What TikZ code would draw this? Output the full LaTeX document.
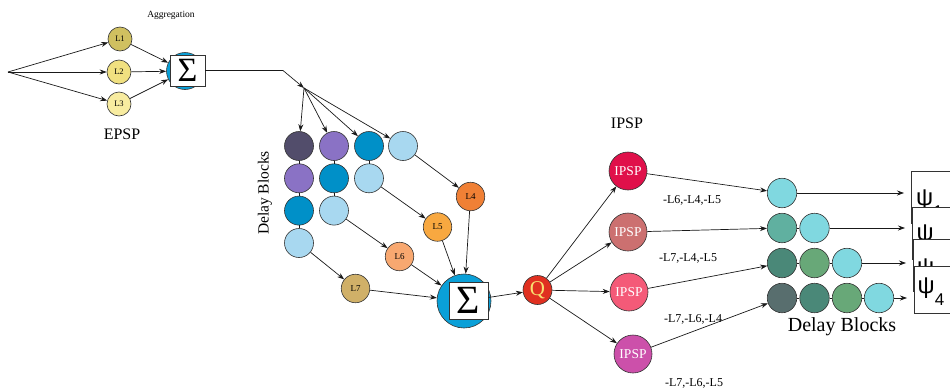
\documentclass[tikz,border=0pt]{standalone}
\usepackage{fontspec}
\setmainfont{Liberation Serif}
\newfontfamily\sansf{Liberation Sans}
\usetikzlibrary{arrows.meta}
\newcommand\myfs[1]{\fontsize{#1}{#1}\selectfont}
\definecolor{cA}{HTML}{524D6B}
\definecolor{cPurp}{HTML}{8A72C5}
\definecolor{cBlu}{HTML}{0090C8}
\definecolor{cLblu}{HTML}{A8D8F0}
\definecolor{cSig}{HTML}{0AA0D8}
\definecolor{cLa}{HTML}{D0C060}
\definecolor{cLb}{HTML}{F0E080}
\definecolor{cLc}{HTML}{F8ECA0}
\definecolor{cLd}{HTML}{F08035}
\definecolor{cLe}{HTML}{F8A840}
\definecolor{cLf}{HTML}{F8A870}
\definecolor{cLg}{HTML}{D0B068}
\definecolor{cQ}{HTML}{E03020}
\definecolor{cQt}{HTML}{F8E070}
\definecolor{cIa}{HTML}{E0104A}
\definecolor{cIb}{HTML}{CC7070}
\definecolor{cIc}{HTML}{F45A78}
\definecolor{cId}{HTML}{CC50AA}
\definecolor{cCy}{HTML}{80D8E0}
\definecolor{cTa}{HTML}{60B0A0}
\definecolor{cTb}{HTML}{4A8878}
\definecolor{cGr}{HTML}{68A878}
\definecolor{cGt}{HTML}{586E6E}
\tikzset{
  arr/.style={-{Stealth[length=7pt,width=5pt]}, line width=0.7pt, draw=black!90},
  lnk/.style={line width=0.7pt, draw=black!90},
  ball/.style={circle, draw=black!80, line width=0.6pt, inner sep=0pt},
  lball/.style={ball, minimum size=24pt, font=\myfs{8.5}},
  dball/.style={ball, minimum size=29pt},
  mball/.style={ball, minimum size=28.5pt, font=\myfs{9}},
  iball/.style={ball, minimum size=38pt, text=white, font=\myfs{13.5}},
  rball/.style={ball, minimum size=29.5pt},
  sbox/.style={draw=black!80, fill=white, line width=0.6pt, inner sep=0pt},
  psibox/.style={draw=black!80, fill=white, line width=0.6pt, inner sep=0pt, anchor=north west, minimum width=100pt},
  psitxt/.style={anchor=base west, inner sep=0pt, font=\sansf\myfs{24}},
  lbl/.style={inner sep=0pt, font=\myfs{12}},
  ttl/.style={inner sep=0pt, font=\myfs{16}}
}
\begin{document}
\begin{tikzpicture}[x=1pt,y=-1pt]
\useasboundingbox (0,0) rectangle (950,391);
\clip (0,0) rectangle (950,391);

% ---------- EPSP part ----------
\node[inner sep=0pt, font=\myfs{9.5}] (aggr) at (171,15) {Aggregation};
\node[ttl] (epsp) at (122,134) {EPSP};
\coordinate (src) at (8,72);
\node[lball, fill=cLa] (L1) at (120,39) {L1};
\node[lball, fill=cLb] (L2) at (119,72) {L2};
\node[lball, fill=cLc] (L3) at (119,104) {L3};
\node[ball, minimum size=37pt, fill=cSig] (sgAc) at (185,71) {};
\node[sbox, minimum width=35pt, minimum height=31pt, font=\myfs{34}] (sgAb) at (187.5,70.5) {Σ};
\draw[arr] (src) -- (L1);
\draw[arr] (src) -- (L2);
\draw[arr] (src) -- (L3);
\draw[arr] (L1) -- (sgAc);
\draw[arr] (L2) -- (sgAc);
\draw[arr] (L3) -- (sgAc);
\coordinate (bend) at (283,70.5);
\coordinate (split) at (304,88);
\draw[lnk] (sgAb.east) -- (bend);
\draw[arr] (bend) -- (split);

% ---------- delay blocks (left) ----------
\node[inner sep=0pt, rotate=90, font=\myfs{15.5}] (dbl) at (265,193) {Delay Blocks};
\node[dball, fill=cA] (a1) at (299,146) {};
\node[dball, fill=cPurp] (a2) at (299,178.3) {};
\node[dball, fill=cBlu] (a3) at (299,210.6) {};
\node[dball, fill=cLblu] (a4) at (299,243) {};
\node[dball, fill=cPurp] (b1) at (334,146) {};
\node[dball, fill=cBlu] (b2) at (334,178.3) {};
\node[dball, fill=cLblu] (b3) at (334,210.6) {};
\node[dball, fill=cBlu] (c1) at (369,146) {};
\node[dball, fill=cLblu] (c2) at (369,178.3) {};
\node[dball, fill=cLblu] (d1) at (403,146) {};
\draw[lnk] (a1) -- (a2); \draw[lnk] (a2) -- (a3); \draw[lnk] (a3) -- (a4);
\draw[lnk] (b1) -- (b2); \draw[lnk] (b2) -- (b3);
\draw[lnk] (c1) -- (c2);
\draw[arr] (split) -- (a1);
\draw[arr] (split) -- (b1);
\draw[arr] (split) -- (c1);
\draw[arr] (split) -- (d1);

\node[mball, fill=cLd] (L4) at (470.5,196.5) {L4};
\node[mball, fill=cLe] (L5) at (437.5,227) {L5};
\node[mball, fill=cLf] (L6) at (399.5,256.5) {L6};
\node[mball, fill=cLg] (L7) at (355.5,288.5) {L7};
\draw[arr] (d1) -- (L4);
\draw[arr] (c2) -- (L5);
\draw[arr] (b3) -- (L6);
\draw[arr] (a4) -- (L7);

\node[ball, minimum size=54pt, fill=cSig] (sgBc) at (464,301) {};
\node[sbox, minimum width=39pt, minimum height=37pt, font=\myfs{40}] (sgBb) at (468.5,300.5) {Σ};
\draw[arr] (L4) -- (sgBc);
\draw[arr] (L5) -- (sgBc);
\draw[arr] (L6) -- (sgBc);
\draw[arr] (L7) -- (sgBc);

\node[ball, minimum size=29pt, fill=cQ, text=cQt, font=\myfs{21}] (Q) at (537.5,290) {Q};
\draw[arr] (sgBb) -- (Q);

% ---------- IPSP part ----------
\node[ttl] (ipspt) at (627,123) {IPSP};
\node[iball, fill=cIa] (I1) at (628,171) {IPSP};
\node[iball, fill=cIb] (I2) at (628,232) {IPSP};
\node[iball, fill=cIc] (I3) at (629,292) {IPSP};
\node[iball, fill=cId] (I4) at (633,354) {IPSP};
\draw[arr] (Q) -- (I1);
\draw[arr] (Q) -- (I2);
\draw[arr] (Q) -- (I3);
\draw[arr] (Q) -- (I4);
\node[lbl] (lab1) at (692,200) {-L6,-L4,-L5};
\node[lbl] (lab2) at (688,258) {-L7,-L4,-L5};
\node[lbl] (lab3) at (693,319) {-L7,-L6,-L4};
\node[lbl] (lab4) at (694,383) {-L7,-L6,-L5};

% ---------- delay blocks (right) ----------
\node[rball, fill=cCy] (r11) at (782,193) {};
\node[rball, fill=cTa] (r21) at (782,228) {};
\node[rball, fill=cCy] (r22) at (814.5,228) {};
\node[rball, fill=cTb] (r31) at (782,263) {};
\node[rball, fill=cGr] (r32) at (814.5,263) {};
\node[rball, fill=cCy] (r33) at (847,263) {};
\node[rball, fill=cGt] (r41) at (782,298) {};
\node[rball, fill=cTb] (r42) at (814.5,298) {};
\node[rball, fill=cGr] (r43) at (847,298) {};
\node[rball, fill=cCy] (r44) at (879,298) {};
\draw[lnk] (r21) -- (r22);
\draw[lnk] (r31) -- (r32); \draw[lnk] (r32) -- (r33);
\draw[lnk] (r41) -- (r42); \draw[lnk] (r42) -- (r43); \draw[lnk] (r43) -- (r44);
\draw[arr] (I1) -- (r11);
\draw[arr] (I2) -- (r21);
\draw[arr] (I3) -- (r31);
\draw[arr] (I4) -- (r41);
\node[inner sep=0pt, font=\myfs{20}] (dbr) at (842,327) {Delay Blocks};

% ---------- psi boxes ----------
\node[psibox, minimum height=52pt] (p1) at (911,171) {};
\node[psitxt] (t1) at (916,205) {ψ\raisebox{-12pt}{\myfs{17}1}};
\node[psibox, minimum height=52pt] (p2) at (912,207) {};
\node[psitxt] (t2) at (916.5,240) {ψ\raisebox{-12pt}{\myfs{17}2}};
\node[psibox, minimum height=52pt] (p3) at (913,239) {};
\node[psitxt] (t3) at (917,274) {ψ\raisebox{-12pt}{\myfs{17}3}};
\node[psibox, minimum height=47pt] (p4) at (914,266) {};
\node[psitxt] (t4) at (917.5,293) {ψ\raisebox{-12pt}{\myfs{17}4}};
\draw[arr, shorten >=7pt] (r11) -- (p1.west |- r11);
\draw[arr, shorten >=7pt] (r22) -- (p2.west |- r22);
\draw[arr, shorten >=7pt] (r33) -- (p3.west |- r33);
\draw[arr, shorten >=7pt] (r44) -- (p4.west |- r44);
\end{tikzpicture}
\end{document}
